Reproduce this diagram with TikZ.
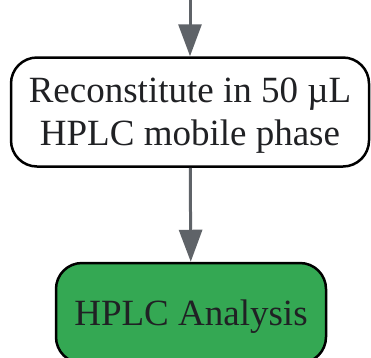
\documentclass[tikz,border=0pt]{standalone}
\usepackage{fontspec}
\setmainfont{Liberation Serif}
\usepackage{tikz}
\usetikzlibrary{arrows.meta, positioning}

\definecolor{flowgray}{HTML}{5F6368}
\definecolor{flowgreen}{HTML}{34A853}
\definecolor{flowtext}{HTML}{202124}

\tikzset{
    flowbox/.style={draw=black, line width=2.5pt, rounded corners=26pt,
        align=center, text=flowtext, font=\fontsize{37}{43}\selectfont,
        inner sep=0pt, text depth=0pt},
    flowarrow/.style={draw=flowgray, line width=3pt,
        -{Triangle[width=23pt,length=32pt]}, color=flowgray}
}

\begin{document}
\begin{tikzpicture}[x=1pt,y=1pt]
        \useasboundingbox (0,0) rectangle (371,-357);
        \node[flowbox, fill=white, minimum width=358pt, minimum height=109pt]
            (recon) at (190,-112) {Reconstitute in 50 µL\\HPLC mobile phase};
        \node[flowbox, fill=flowgreen, minimum width=270pt, minimum height=100pt]
            (hplc) at (191,-313) {HPLC Analysis};
        \coordinate (top) at (190,0);
        \draw[flowarrow] (top) -- (recon);
        \draw[flowarrow] (recon) -- (hplc);
    \end{tikzpicture}
\end{document}
